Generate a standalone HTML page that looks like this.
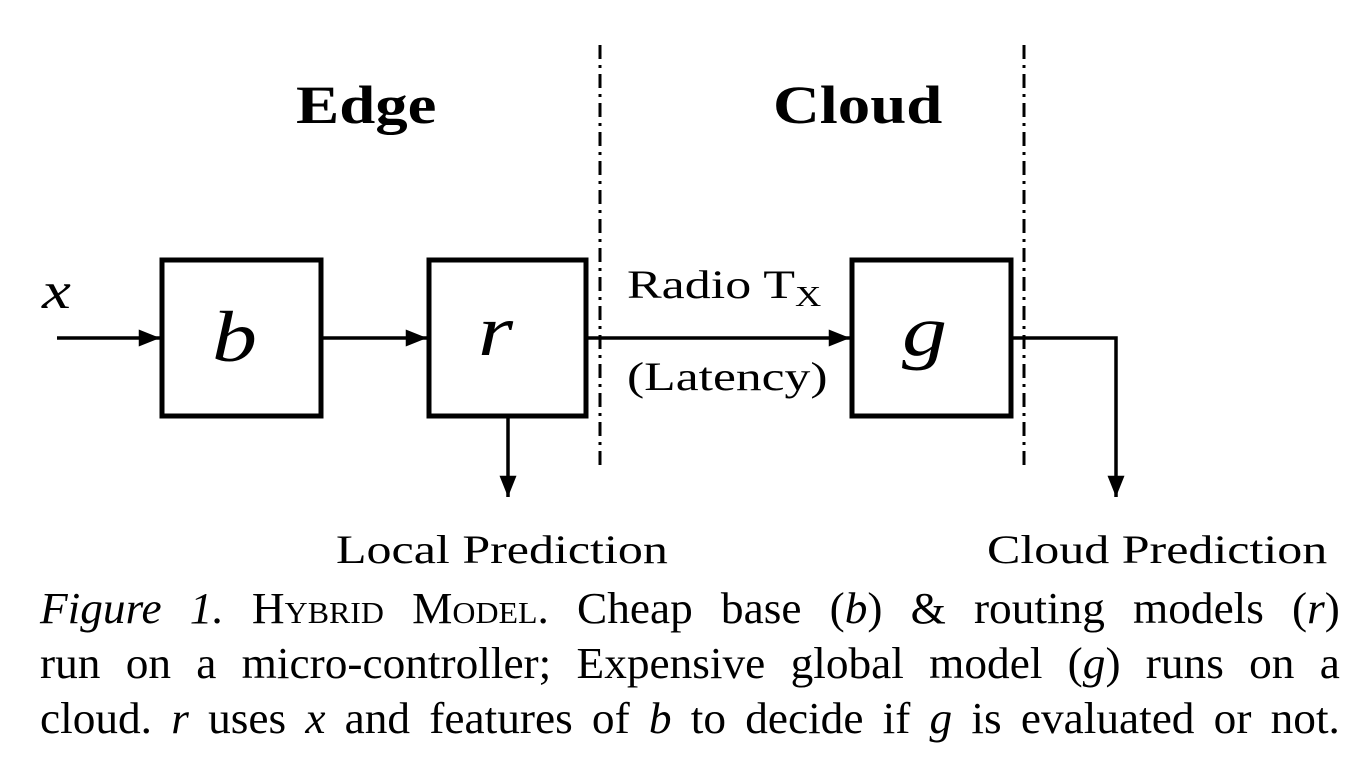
<!DOCTYPE html>
<html><head><style>
body{margin:0;background:#fff;width:1362px;height:758px;overflow:hidden;position:relative;font-family:"Liberation Serif",serif}
.t{position:absolute;white-space:nowrap;color:#000;transform-origin:0 0}
.w{transform:scaleX(1.25)}
.cap{position:absolute;left:40px;width:1262px;font-size:44px;line-height:55px;top:581px;transform:scaleX(1.03);transform-origin:0 0}
.cap div{text-align:justify;text-align-last:justify;white-space:nowrap}
.sc{font-variant:small-caps}
</style></head><body>
<svg width="1362" height="758" style="position:absolute;left:0;top:0">
<defs>
<marker id="h" viewBox="0 0 20 16" refX="20" refY="8" markerWidth="22" markerHeight="17" orient="auto" markerUnits="userSpaceOnUse"><path d="M0,0 L20,8 L0,16z" fill="#000"/></marker></defs>
<g stroke="#000" fill="none">
<rect x="162" y="260" width="159" height="156" stroke-width="5"/>
<rect x="429" y="260" width="157" height="156" stroke-width="5"/>
<rect x="852" y="260" width="159" height="156" stroke-width="5"/>
<g stroke-width="3.5">
<line x1="57" y1="338" x2="160" y2="338" marker-end="url(#h)"/>
<line x1="323" y1="338" x2="427" y2="338" marker-end="url(#h)"/>
<line x1="588" y1="338" x2="850" y2="338" marker-end="url(#h)"/>
<polyline points="1013,338 1116,338 1116,497" marker-end="url(#h)"/>
<line x1="508" y1="418" x2="508" y2="497" marker-end="url(#h)"/>
</g>
<g stroke-width="3" stroke-dasharray="14,6,3,6">
<line x1="600" y1="45" x2="600" y2="470"/>
<line x1="1024" y1="45" x2="1024" y2="470"/>
</g>
</g>
</svg>
<div class="t" style="left:296px;top:74px;font-size:54px;font-weight:bold;transform:scaleX(1.2)">Edge</div>
<div class="t" style="left:773px;top:74px;font-size:54px;font-weight:bold;transform:scaleX(1.2)">Cloud</div>
<div class="t w" style="left:42px;top:262px;font-size:52px;font-style:italic">x</div>
<div class="t w" style="left:212px;top:296px;font-size:72px;font-style:italic">b</div>
<div class="t w" style="left:478px;top:290px;font-size:72px;font-style:italic">r</div>
<div class="t w" style="left:902px;top:290px;font-size:72px;font-style:italic">g</div>
<div class="t" style="left:627px;top:261px;font-size:40px;transform:scaleX(1.3)">Radio T<span style="font-size:28px;position:relative;top:8px">X</span></div>
<div class="t" style="left:627px;top:353px;font-size:40px;transform:scaleX(1.29)">(Latency)</div>
<div class="t w" style="left:336px;top:526px;font-size:40px">Local Prediction</div>
<div class="t w" style="left:987px;top:526px;font-size:40px">Cloud Prediction</div>
<div class="cap">
<div><i>Figure 1.</i> <span class="sc">Hybrid Model</span>. Cheap base (<i>b</i>) &amp; routing models (<i>r</i>)</div>
<div>run on a micro-controller; Expensive global model (<i>g</i>) runs on a</div>
<div>cloud. <i>r</i> uses <i>x</i> and features of <i>b</i> to decide if <i>g</i> is evaluated or not.</div>
</div>
</body></html>
